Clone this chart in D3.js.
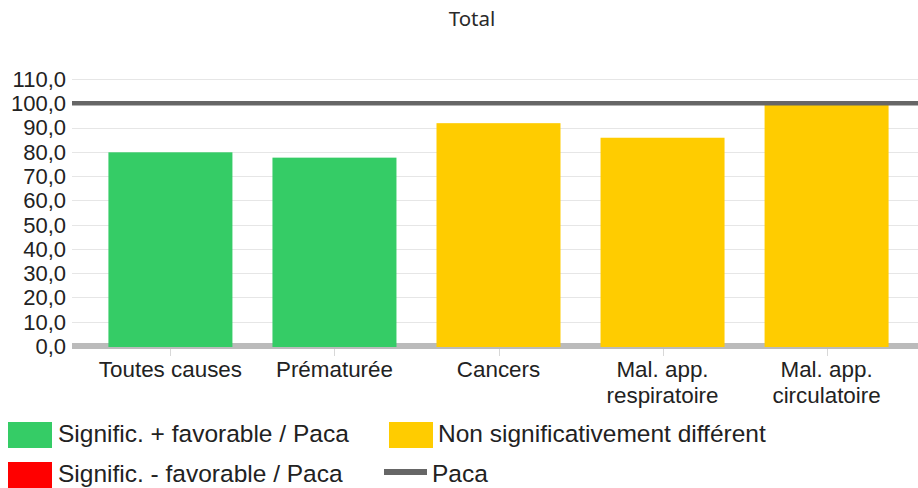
<!DOCTYPE html>
<html><head><meta charset="utf-8">
<script src="https://d3js.org/d3.v7.min.js"></script>
<style>
html,body{margin:0;padding:0;background:#fff;}
svg{display:block;}
</style></head>
<body>
<svg id="chart" width="918" height="488"></svg>
<script>
const categories = ["Toutes causes", "Prématurée", "Cancers", "Mal. app. respiratoire", "Mal. app. circulatoire"];
const categoryLines = [["Toutes causes"], ["Prématurée"], ["Cancers"], ["Mal. app.", "respiratoire"], ["Mal. app.", "circulatoire"]];
const values = [79.8, 77.6, 91.8, 85.8, 99.4];
const status = ["fav", "fav", "ns", "ns", "ns"];
const pacaValue = 100;
const yTicks = [0, 10, 20, 30, 40, 50, 60, 70, 80, 90, 100, 110];
const legendLabels = ["Signific. + favorable / Paca", "Non significativement différent", "Signific. - favorable / Paca", "Paca"];
const title = "Total";

const colors = {fav: "#35cc66", ns: "#ffcc00", unfav: "#ff0000", paca: "#666666"};

const svg = d3.select("#chart");
const plotLeft = 72, plotRight = 918;

const x = d3.scalePoint().domain(categories).range([72, 925]).padding(0.6);
const y = d3.scaleLinear().domain([0, 110]).range([346, 79]);
const barW = 124;

// title
svg.append("text").attr("x", 472).attr("y", 26).attr("text-anchor", "middle")
  .attr("font-family", "Noto Sans").attr("font-size", 20.5).attr("fill", "#2a2a2a").text(title);

// gridlines
svg.append("g").selectAll("line").data(yTicks).join("line")
  .attr("x1", plotLeft).attr("x2", plotRight)
  .attr("y1", d => Math.round(y(d)) + 0.5).attr("y2", d => Math.round(y(d)) + 0.5)
  .attr("stroke", "#e6e6e6").attr("stroke-width", 1);

// y axis labels
const fmt = d => d3.format(".1f")(d).replace(".", ",");
svg.append("g").selectAll("text").data(yTicks).join("text")
  .attr("x", 66).attr("y", d => y(d)).attr("dy", "0.36em")
  .attr("text-anchor", "end").attr("font-family", "Liberation Sans, Arial").attr("font-size", 22)
  .attr("fill", "#222").text(fmt);

// baseline
svg.append("line").attr("x1", plotLeft).attr("x2", plotRight)
  .attr("y1", y(0)).attr("y2", y(0)).attr("stroke", "#bbbbbb").attr("stroke-width", 6);

// x ticks
svg.append("g").selectAll("line").data(categories).join("line")
  .attr("x1", d => Math.round(x(d)) + 0.5).attr("x2", d => Math.round(x(d)) + 0.5)
  .attr("y1", y(0) + 3).attr("y2", y(0) + 10).attr("stroke", "#d8d8d8").attr("stroke-width", 1);

// bars
svg.append("g").selectAll("rect").data(categories).join("rect")
  .attr("x", d => x(d) - barW / 2).attr("width", barW)
  .attr("y", (d, i) => y(values[i])).attr("height", (d, i) => y(0) + 1 - y(values[i]))
  .attr("fill", (d, i) => colors[status[i]]);

// paca line
svg.append("line").attr("x1", plotLeft).attr("x2", plotRight)
  .attr("y1", y(pacaValue)).attr("y2", y(pacaValue)).attr("stroke", colors.paca).attr("stroke-width", 4.5);

// x labels
const xl = svg.append("g").selectAll("text").data(categories).join("text")
  .attr("text-anchor", "middle").attr("font-family", "Liberation Sans, Arial").attr("font-size", 22.4)
  .attr("fill", "#222");
xl.each(function(d, i) {
  const t = d3.select(this);
  categoryLines[i].forEach((ln, j) => {
    t.append("tspan").attr("x", x(d)).attr("y", 377 + j * 26).text(ln);
  });
});

// legend
const lg = svg.append("g").attr("font-family", "Liberation Sans, Arial").attr("font-size", 24.5).attr("fill", "#222");
const legendItems = [
  {label: legendLabels[0], color: colors.fav, type: "rect", rx: 8, ry: 422, tx: 58, ty: 442},
  {label: legendLabels[1], color: colors.ns, type: "rect", rx: 389, ry: 422, tx: 438, ty: 442},
  {label: legendLabels[2], color: colors.unfav, type: "rect", rx: 8, ry: 462, tx: 58, ty: 482},
  {label: legendLabels[3], color: colors.paca, type: "line", rx: 384, ry: 472, tx: 432, ty: 482}
];
legendItems.forEach(it => {
  if (it.type === "rect") {
    lg.append("rect").attr("x", it.rx).attr("y", it.ry).attr("width", 44).attr("height", 26).attr("fill", it.color);
  } else {
    lg.append("line").attr("x1", it.rx).attr("x2", it.rx + 43).attr("y1", it.ry).attr("y2", it.ry)
      .attr("stroke", it.color).attr("stroke-width", 6);
  }
  lg.append("text").attr("x", it.tx).attr("y", it.ty).text(it.label);
});
</script>
</body></html>
